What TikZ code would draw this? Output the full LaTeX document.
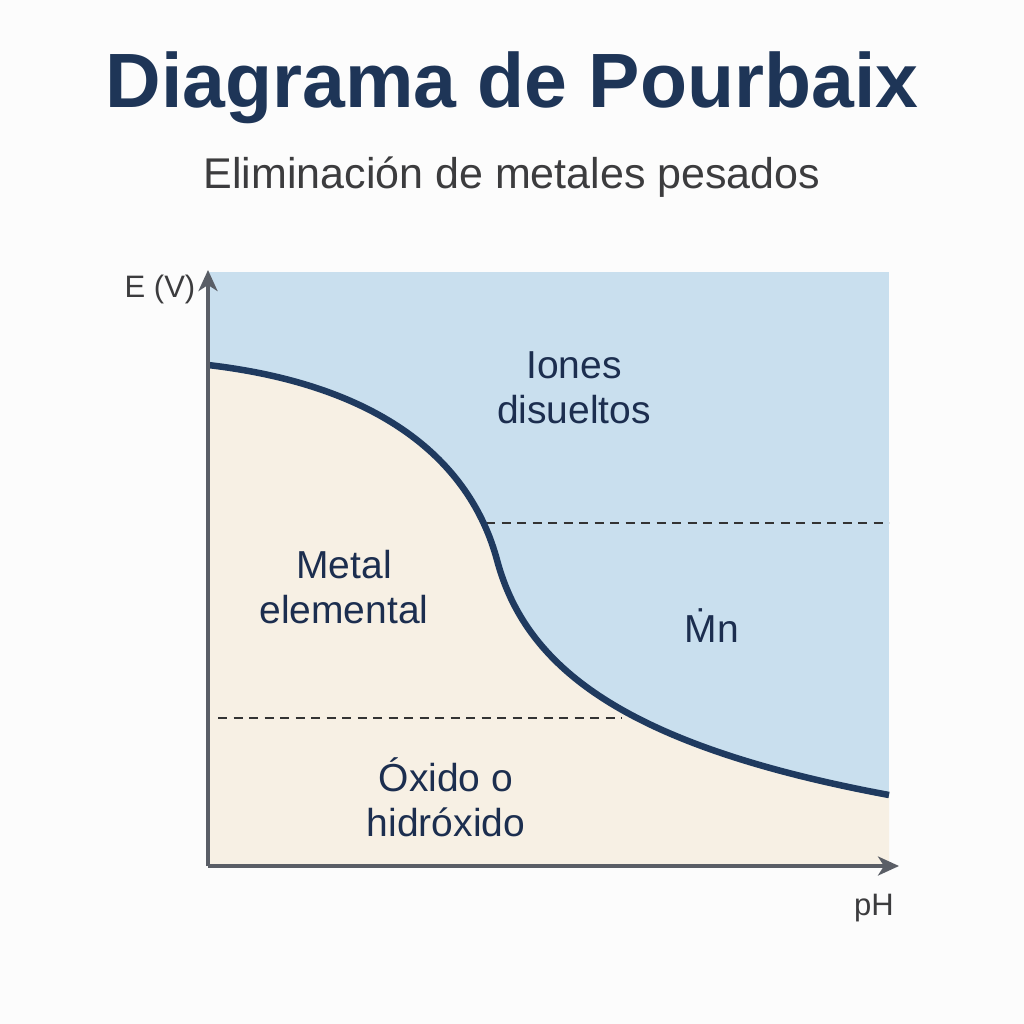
\documentclass[tikz,border=0pt]{standalone}
\usepackage{fontspec}
\setmainfont{Liberation Sans}
\usetikzlibrary{arrows.meta}
\definecolor{titlenavy}{HTML}{1E3557}
\definecolor{labelnavy}{HTML}{1C2E4F}
\definecolor{subgrey}{HTML}{3C3C3E}
\definecolor{ionblue}{HTML}{C9DFEE}
\definecolor{metalbeige}{HTML}{F7F0E4}
\definecolor{curvenavy}{HTML}{1F3A5F}
\definecolor{axisgrey}{HTML}{5A5E66}
\definecolor{pagebg}{HTML}{FCFCFC}
\begin{document}
\begin{tikzpicture}[x=1pt,y=-1pt,
  region/.style={text=labelnavy,font=\fontsize{39}{45}\selectfont,align=center},
  axislabel/.style={text=subgrey,font=\fontsize{31}{34}\selectfont},
  axisline/.style={draw=axisgrey,line width=3.5pt,-{Stealth[length=21pt,width=19pt,inset=6pt]}},
  boundary/.style={draw=curvenavy,line width=6.5pt},
  divider/.style={draw=black!80,line width=2pt,dash pattern=on 9pt off 6.5pt}]
\useasboundingbox (0,0) rectangle (1024,1024);
\fill[pagebg] (0,0) rectangle (1024,1024);
% regions
\fill[ionblue] (208,272) rectangle (889,866);
\fill[metalbeige] (208,866) -- (208,365) .. controls (380,385) and (470,460) .. (497,560) .. controls (525,665) and (620,745) .. (889,795) -- (889,866) -- cycle;
% dividers
\coordinate (d1a) at (486,523);
\coordinate (d1b) at (889,523);
\coordinate (d2a) at (218,718);
\coordinate (d2b) at (622,718);
\draw[divider] (d1a) -- (d1b);
\draw[divider] (d2a) -- (d2b);
% boundary curve
\draw[boundary] (208,365) .. controls (380,385) and (470,460) .. (497,560) .. controls (525,665) and (620,745) .. (889,795);
% axes
\coordinate (origin) at (208,866);
\coordinate (ytip) at (208,270);
\coordinate (xtip) at (899,866);
\draw[axisline] (origin) -- (ytip);
\draw[axisline] (origin) -- (xtip);
% titles
\node[text=titlenavy,font=\fontsize{77}{80}\selectfont\bfseries] (title) at (512,88) {Diagrama de Pourbaix};
\node[text=subgrey,font=\fontsize{43}{48}\selectfont] (subtitle) at (512,177) {Eliminación de metales pesados};
% labels
\node[region] (ions) at (574,388) {Iones\\disueltos};
\node[region] (metal) at (344,587) {Metal\\elemental};
\node[region] (mn) at (712,626) {\.{M}n};
\node[region] (oxide) at (446,797) {Óxido o\\hidróxido};
\node[axislabel] (elabel) at (160,289) {E (V)};
\node[axislabel] (phlabel) at (874,908) {pH};
\end{tikzpicture}
\end{document}
